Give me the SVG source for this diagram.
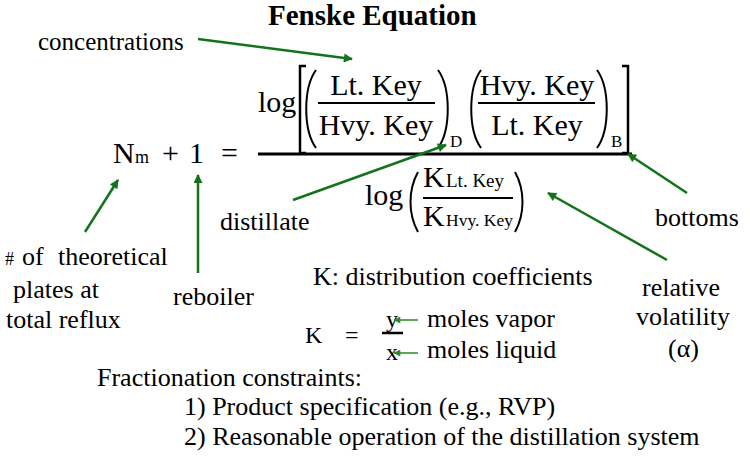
<svg xmlns="http://www.w3.org/2000/svg" width="750" height="467" viewBox="0 0 750 467">
<style>
.t{font-family:"Liberation Serif","Times New Roman",serif;fill:#000}
.lab{font-size:26px}
.eq{font-size:30px}
.ln{stroke:#000;fill:none}
.ar{stroke:#13731a;stroke-width:2.5;fill:none}
.ars{stroke:#2a8a2a;stroke-width:1.5;fill:none}
</style>
<defs>
<marker id="ah" viewBox="0 0 10 10" refX="9" refY="5" markerWidth="11" markerHeight="9" markerUnits="userSpaceOnUse" orient="auto"><path d="M0,0 L10,5 L0,10 z" fill="#13731a"/></marker>
<marker id="ahs" viewBox="0 0 10 10" refX="9" refY="5" markerWidth="8" markerHeight="7" markerUnits="userSpaceOnUse" orient="auto"><path d="M0,0 L10,5 L0,10 z" fill="#2a8a2a"/></marker>
</defs>
<rect width="750" height="467" fill="#fff"/>

<g id="title"><text class="t" x="268" y="25" font-size="29" font-weight="bold">Fenske Equation</text></g>

<g id="equation">
<text class="t eq" x="113" y="163">N</text>
<text class="t" x="135" y="163" font-size="18">m</text>
<text class="t eq" x="162" y="163">+</text>
<text class="t eq" x="189" y="163">1</text>
<text class="t eq" x="221" y="163">=</text>
<line class="ln" x1="258" y1="154" x2="632" y2="154" stroke-width="3"/>
<text class="t eq" x="258" y="112">log</text>
<path class="ln" stroke-width="2.5" d="M306,66 H300 V153 H306"/>
<path class="ln" stroke-width="2.5" d="M622,66 H628 V153 H622"/>
<path class="ln" stroke-width="2" d="M316,70 C303,88 303,130 316,148"/>
<path class="ln" stroke-width="2" d="M438,70 C451,88 451,130 438,148"/>
<text class="t eq" x="376" y="95" text-anchor="middle">Lt. Key</text>
<line class="ln" x1="318" y1="103" x2="435" y2="103" stroke-width="2"/>
<text class="t eq" x="376" y="135" text-anchor="middle">Hvy. Key</text>
<text class="t" x="450" y="147" font-size="17">D</text>
<path class="ln" stroke-width="2" d="M481,70 C468,88 468,130 481,148"/>
<path class="ln" stroke-width="2" d="M597,70 C610,88 610,130 597,148"/>
<text class="t eq" x="537" y="95" text-anchor="middle">Hvy. Key</text>
<line class="ln" x1="478" y1="103" x2="595" y2="103" stroke-width="2"/>
<text class="t eq" x="537" y="135" text-anchor="middle">Lt. Key</text>
<text class="t" x="611" y="147" font-size="17">B</text>
<text class="t eq" x="365" y="205">log</text>
<path class="ln" stroke-width="2" d="M418,172 C408,190 408,214 418,232"/>
<path class="ln" stroke-width="2" d="M515,172 C525,190 525,214 515,232"/>
<text class="t eq" x="423" y="187">K</text>
<text class="t" x="446" y="187" font-size="19">Lt. Key</text>
<line class="ln" x1="423" y1="198" x2="513" y2="198" stroke-width="2"/>
<text class="t eq" x="423" y="226">K</text>
<text class="t" x="446" y="226" font-size="17.5">Hvy. Key</text>
</g>

<g id="k-def">
<text class="t lab" x="313" y="285">K: distribution coefficients</text>
<text class="t" x="305" y="343" font-size="24">K</text>
<text class="t" x="345" y="343" font-size="24">=</text>
<text class="t" x="386" y="327" font-size="24">y</text>
<line class="ln" x1="382" y1="333" x2="403" y2="333" stroke-width="2.5"/>
<text class="t" x="386" y="360" font-size="24">x</text>
<text class="t lab" x="427" y="327">moles vapor</text>
<text class="t lab" x="427" y="358">moles liquid</text>
</g>

<g id="label-concentrations"><text class="t" x="38" y="50" font-size="25">concentrations</text></g>
<g id="label-plates">
<text class="t" x="5" y="265" font-size="18">#</text>
<text class="t lab" x="22" y="265">of</text>
<text class="t lab" x="58" y="265">theoretical</text>
<text class="t lab" x="13" y="298">plates at</text>
<text class="t lab" x="6" y="328">total reflux</text>
</g>
<g id="label-reboiler"><text class="t lab" x="173" y="305">reboiler</text></g>
<g id="label-distillate"><text class="t lab" x="220" y="230">distillate</text></g>
<g id="label-bottoms"><text class="t lab" x="655" y="226">bottoms</text></g>
<g id="label-volatility">
<text class="t lab" x="642" y="296">relative</text>
<text class="t lab" x="636" y="325">volatility</text>
<text class="t lab" x="668" y="357">(α)</text>
</g>

<g id="constraints">
<text class="t lab" x="97" y="386">Fractionation constraints:</text>
<text class="t lab" x="184" y="415">1) Product specification (e.g., RVP)</text>
<text class="t lab" x="184" y="445">2) Reasonable operation of the distillation system</text>
</g>

<g id="connectors">
<line class="ar" x1="198" y1="39" x2="352" y2="59" marker-end="url(#ah)"/>
<line class="ar" x1="85" y1="232" x2="118" y2="180" marker-end="url(#ah)"/>
<line class="ar" x1="198" y1="273" x2="198" y2="175" marker-end="url(#ah)"/>
<line class="ar" x1="293" y1="200" x2="446" y2="145" marker-end="url(#ah)"/>
<line class="ar" x1="687" y1="193" x2="628" y2="154" marker-end="url(#ah)"/>
<line class="ar" x1="667" y1="260" x2="548" y2="193" marker-end="url(#ah)"/>
<line class="ars" x1="418" y1="320" x2="394" y2="320" marker-end="url(#ahs)"/>
<line class="ars" x1="418" y1="353" x2="394" y2="353" marker-end="url(#ahs)"/>
</g>
</svg>
